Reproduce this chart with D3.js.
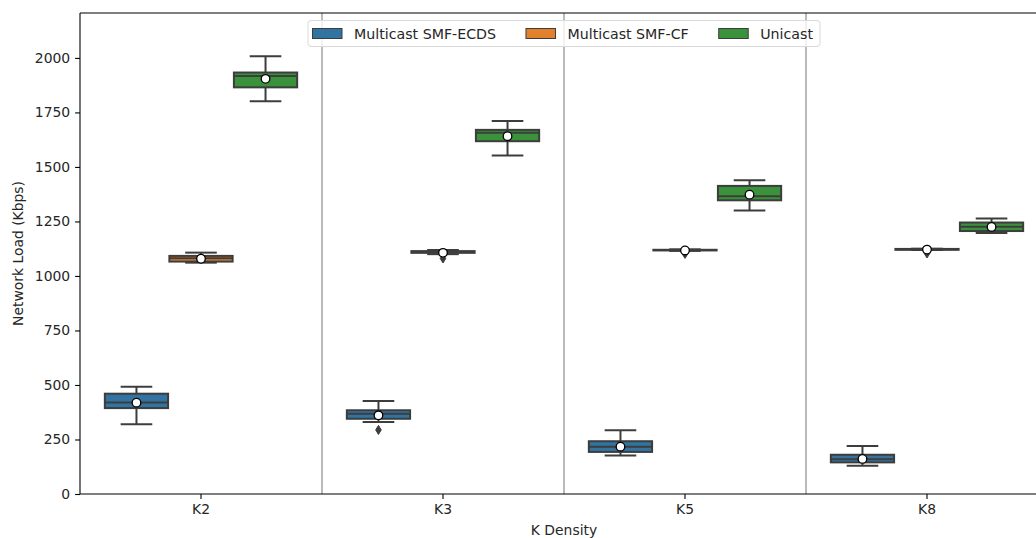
<!DOCTYPE html>
<html>
<head>
<meta charset="utf-8">
<script src="https://cdn.jsdelivr.net/npm/d3@7/dist/d3.min.js"></script>
<style>
  html, body { margin: 0; padding: 0; background: #ffffff; }
  svg { display: block; font-family: "DejaVu Sans", sans-serif; }
</style>
</head>
<body>
<svg id="chart" width="1036" height="538"></svg>
<script>
// Network load per K density, three delivery schemes (box statistics in Kbps)
const categories = ["K2", "K3", "K5", "K8"];
const seriesNames = ["Multicast SMF-ECDS", "Multicast SMF-CF", "Unicast"];
const seriesColors = ["#3274a1", "#e1812c", "#3a923a"];
const yTicks = [0, 250, 500, 750, 1000, 1250, 1500, 1750, 2000];

const ecdsLow      = [320, 330, 176, 130];
const ecdsQ1       = [394, 345, 193, 145];
const ecdsMedian   = [420, 368, 217, 159];
const ecdsQ3       = [460, 384, 242, 180];
const ecdsHigh     = [492, 427, 292, 220];
const ecdsMean     = [419, 361, 217, 161];
const ecdsOutliers = [[], [294], [], []];

const cfLow      = [1061, 1100, 1115, 1119];
const cfQ1       = [1066, 1106, 1117, 1120];
const cfMedian   = [1081, 1110, 1119, 1122];
const cfQ3       = [1092, 1114, 1120, 1124];
const cfHigh     = [1107, 1119, 1122, 1125];
const cfMean     = [1079, 1106, 1117, 1121];
const cfOutliers = [[], [1080], [1101], [1103]];

const uniLow      = [1801, 1552, 1300, 1197];
const uniQ1       = [1865, 1618, 1347, 1206];
const uniMedian   = [1917, 1657, 1365, 1226];
const uniQ3       = [1933, 1670, 1413, 1245];
const uniHigh     = [2008, 1711, 1439, 1263];
const uniMean     = [1904, 1641, 1373, 1225];
const uniOutliers = [[], [], [], []];

const statsBySeries = [
  {low: ecdsLow, q1: ecdsQ1, med: ecdsMedian, q3: ecdsQ3, high: ecdsHigh, mean: ecdsMean, out: ecdsOutliers},
  {low: cfLow, q1: cfQ1, med: cfMedian, q3: cfQ3, high: cfHigh, mean: cfMean, out: cfOutliers},
  {low: uniLow, q1: uniQ1, med: uniMedian, q3: uniQ3, high: uniHigh, mean: uniMean, out: uniOutliers}
];

const boxes = [];
seriesNames.forEach((name, si) => {
  const s = statsBySeries[si];
  categories.forEach((cat, ci) => {
    boxes.push({
      cat, name, si,
      low: s.low[ci], q1: s.q1[ci], med: s.med[ci], q3: s.q3[ci],
      high: s.high[ci], mean: s.mean[ci], out: s.out[ci]
    });
  });
});

// ---- layout ----
const svg = d3.select("#chart");
const plotLeft = 80, plotRight = 1048, plotTop = 13, plotBottom = 494;
const lineColor = "#3d3d3d";
const fontSize = "13.9px";
const legendFontSize = "14.2px";

const x = d3.scaleBand().domain(categories).range([plotLeft, plotRight]).padding(0);
const hue = d3.scaleBand().domain(seriesNames)
  .range([x.bandwidth() * 0.1, x.bandwidth() * 0.9]).padding(0);
const y = d3.scaleLinear().domain([0, 2206]).range([plotBottom, plotTop]);

const boxW = hue.bandwidth() * 0.98;
const capW = boxW / 2;

// category separators
svg.append("g").selectAll("line")
  .data(categories.slice(1))
  .join("line")
  .attr("x1", d => x(d)).attr("x2", d => x(d))
  .attr("y1", plotTop).attr("y2", plotBottom)
  .attr("stroke", "#a9a9a9").attr("stroke-width", 1.6);

// boxes
const g = svg.append("g");
const bx = d => x(d.cat) + hue(d.name) + hue.bandwidth() / 2;

const boxG = g.selectAll("g.box").data(boxes).join("g").attr("class", "box");

// whiskers
boxG.append("line")
  .attr("x1", bx).attr("x2", bx)
  .attr("y1", d => y(d.q3)).attr("y2", d => y(d.high))
  .attr("stroke", lineColor).attr("stroke-width", 2);
boxG.append("line")
  .attr("x1", bx).attr("x2", bx)
  .attr("y1", d => y(d.q1)).attr("y2", d => y(d.low))
  .attr("stroke", lineColor).attr("stroke-width", 2);

// caps
boxG.append("line")
  .attr("x1", d => bx(d) - capW / 2).attr("x2", d => bx(d) + capW / 2)
  .attr("y1", d => y(d.high)).attr("y2", d => y(d.high))
  .attr("stroke", lineColor).attr("stroke-width", 2);
boxG.append("line")
  .attr("x1", d => bx(d) - capW / 2).attr("x2", d => bx(d) + capW / 2)
  .attr("y1", d => y(d.low)).attr("y2", d => y(d.low))
  .attr("stroke", lineColor).attr("stroke-width", 2);

// box body
boxG.append("rect")
  .attr("x", d => bx(d) - boxW / 2)
  .attr("width", boxW)
  .attr("y", d => y(d.q3))
  .attr("height", d => Math.max(0, y(d.q1) - y(d.q3)))
  .attr("fill", d => seriesColors[d.si])
  .attr("stroke", lineColor).attr("stroke-width", 2);

// median
boxG.append("line")
  .attr("x1", d => bx(d) - boxW / 2).attr("x2", d => bx(d) + boxW / 2)
  .attr("y1", d => y(d.med)).attr("y2", d => y(d.med))
  .attr("stroke", lineColor).attr("stroke-width", 2);

// outliers (thin diamonds)
boxG.selectAll("path.outlier")
  .data(d => d.out.map(v => ({v, d})))
  .join("path")
  .attr("class", "outlier")
  .attr("d", o => {
    const cx = bx(o.d), cy = y(o.v);
    return `M${cx},${cy - 4.5}L${cx + 2.8},${cy}L${cx},${cy + 4.5}L${cx - 2.8},${cy}Z`;
  })
  .attr("fill", lineColor).attr("stroke", lineColor).attr("stroke-width", 1);

// means
boxG.append("circle")
  .attr("cx", bx).attr("cy", d => y(d.mean))
  .attr("r", 4.3)
  .attr("fill", "#ffffff").attr("stroke", "#000000").attr("stroke-width", 1.3);

// ---- axes ----
const yAxis = svg.append("g")
  .attr("transform", `translate(${plotLeft},0)`)
  .call(d3.axisLeft(y).tickValues(yTicks).tickSize(4.9).tickPadding(4.9).tickFormat(d3.format("d")));
const xAxis = svg.append("g")
  .attr("transform", `translate(0,${plotBottom})`)
  .call(d3.axisBottom(x).tickSize(4.9).tickPadding(4.9));

[yAxis, xAxis].forEach(a => {
  a.select(".domain").remove();
  a.selectAll(".tick line").attr("stroke", "#000").attr("stroke-width", 1.1);
  a.selectAll(".tick text").attr("fill", "#262626")
    .style("font-family", "DejaVu Sans, sans-serif").style("font-size", fontSize);
});

// spines
const spines = [
  [plotLeft, plotTop, plotLeft, plotBottom],
  [plotLeft, plotBottom, plotRight, plotBottom],
  [plotLeft, plotTop, plotRight, plotTop],
  [plotRight, plotTop, plotRight, plotBottom]
];
svg.append("g").selectAll("line").data(spines).join("line")
  .attr("x1", d => d[0]).attr("y1", d => d[1]).attr("x2", d => d[2]).attr("y2", d => d[3])
  .attr("stroke", "#000").attr("stroke-width", 1.1);

// axis titles
svg.append("text")
  .attr("x", (plotLeft + plotRight) / 2).attr("y", 535)
  .attr("text-anchor", "middle")
  .style("font-size", fontSize).attr("fill", "#262626")
  .text("K Density");
svg.append("text")
  .attr("transform", `translate(23,${(plotTop + plotBottom) / 2}) rotate(-90)`)
  .attr("text-anchor", "middle")
  .style("font-size", fontSize).attr("fill", "#262626")
  .text("Network Load (Kbps)");

// ---- legend ----
const legend = svg.append("g");
const handleLen = 29.5, handleH = 10, textPad = 12, colSpace = 30, padL = 4.5, padR = 7;
const frame = legend.append("rect");
const items = legend.selectAll("g.item").data(seriesNames).join("g").attr("class", "item");
items.append("rect")
  .attr("width", handleLen).attr("height", handleH)
  .attr("fill", (d, i) => seriesColors[i])
  .attr("stroke", lineColor).attr("stroke-width", 1);
const labels = items.append("text")
  .attr("x", handleLen + textPad).attr("y", handleH / 2)
  .attr("dy", "0.36em")
  .style("font-size", legendFontSize).attr("fill", "#262626")
  .text(d => d);

const widths = [];
labels.each(function () { widths.push(this.getComputedTextLength()); });
const itemW = widths.map(w => handleLen + textPad + w);
const totalW = d3.sum(itemW) + colSpace * (itemW.length - 1) + padL + padR;
const legendLeft = (plotLeft + plotRight) / 2 - totalW / 2;
const legendTop = 20.5, legendH = 26;
let cursor = legendLeft + padL;
items.attr("transform", (d, i) => {
  const tx = cursor;
  cursor += itemW[i] + colSpace;
  return `translate(${tx},${legendTop + (legendH - handleH) / 2})`;
});
frame
  .attr("x", legendLeft).attr("y", legendTop)
  .attr("width", totalW).attr("height", legendH)
  .attr("rx", 3).attr("ry", 3)
  .attr("fill", "#ffffff").attr("fill-opacity", 0.8)
  .attr("stroke", "#d9d9d9").attr("stroke-width", 1);
</script>
</body>
</html>
